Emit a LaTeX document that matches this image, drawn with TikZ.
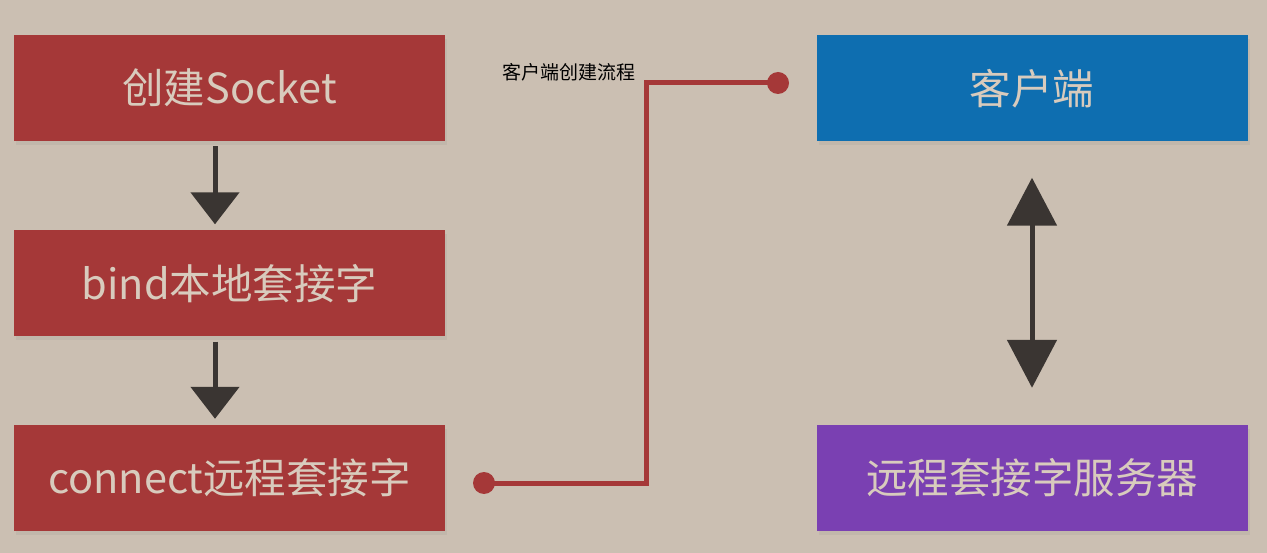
\documentclass[tikz,border=0pt]{standalone}
\usepackage{fontspec}
\usepackage{tikz}
\usetikzlibrary{arrows.meta,positioning,shadows}
\newfontfamily\cjk{Noto Sans CJK SC}
\definecolor{bgtan}{HTML}{CBBFB2}
\definecolor{boxred}{HTML}{A53838}
\definecolor{boxblue}{HTML}{0E6EB0}
\definecolor{boxpurple}{HTML}{7A40B2}
\definecolor{arrowgray}{HTML}{3A3532}
\definecolor{labeltan}{HTML}{D8CBBD}

\begin{document}
\begin{tikzpicture}[x=1pt,y=-1pt,
  box/.style={minimum width=431pt,minimum height=106pt,inner sep=0pt,font=\cjk\fontsize{41.5}{46}\selectfont,
    text=labeltan,drop shadow={opacity=0.12,shadow xshift=2pt,shadow yshift=-4pt}},
  flow/.style={arrowgray,line width=5pt,-{Triangle[width=48pt,length=32pt]}},
  link/.style={boxred,line width=5pt}]
\fill [bgtan] (0,0) rectangle (1267,553);
\useasboundingbox (0,0) rectangle (1267,553);
\node [box,fill=boxred] (sock) at (229.5,88) {创建Socket};
\node [box,fill=boxred] (bind) at (229.5,283.5) {bind本地套接字};
\node [box,fill=boxred] (conn) at (229.5,478) {connect远程套接字};
\node [box,fill=boxblue] (client) at (1032,88.5) {客户端};
\node [box,fill=boxpurple] (server) at (1032,478) {远程套接字服务器};
\node [font=\cjk\fontsize{19}{21}\selectfont,anchor=west,inner sep=0pt] (title) at (502,72) {客户端创建流程};
% arrows between the steps
\draw [flow,shorten <=5pt,shorten >=6pt] ([xshift=-14.5pt]sock.south) -- ([xshift=-14.5pt]bind.north);
\draw [flow,shorten <=5pt,shorten >=6pt] ([xshift=-14.5pt]bind.south) -- ([xshift=-14.5pt]conn.north);
\draw [flow,{Triangle[width=49pt,length=48pt]}-{Triangle[width=49pt,length=48pt]},shorten <=36pt,shorten >=37pt] (client.south) -- (server.north);
% connector to the client
\coordinate (dotA) at (484,483);
\coordinate (dotB) at (778,83);
\draw [link] (dotA) -| (646,83) -- (dotB);
\fill [boxred] (dotA) circle [radius=11pt] (dotB) circle [radius=11pt];
\end{tikzpicture}
\end{document}
